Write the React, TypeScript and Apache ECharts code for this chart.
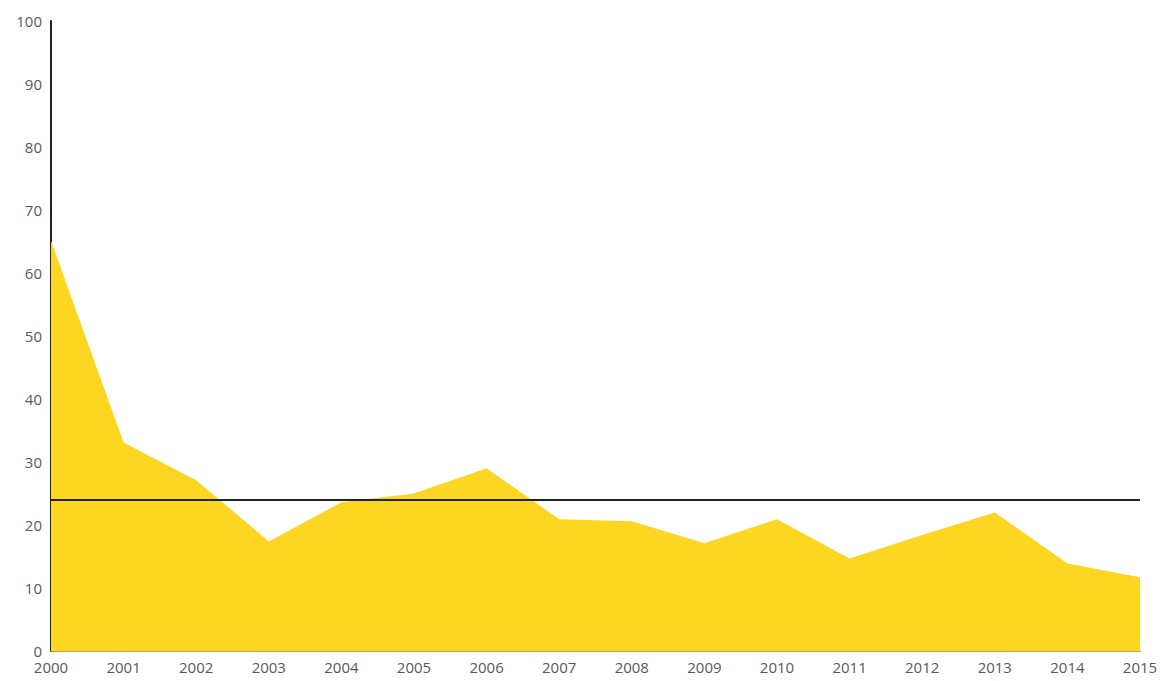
import React, { useEffect, useRef } from "react";
import * as echarts from "echarts";

const years = ["2000","2001","2002","2003","2004","2005","2006","2007","2008","2009","2010","2011","2012","2013","2014","2015"];
const values = [65.1, 33.1, 27.1, 17.4, 23.6, 25.0, 29.0, 20.9, 20.6, 17.1, 20.9, 14.7, 18.4, 22.0, 13.9, 11.7];
const referenceValue = 24;
const yTicks = { min: 0, max: 100, interval: 10 };

export default function App() {
  const ref = useRef<HTMLDivElement>(null);
  useEffect(() => {
    if (!ref.current) return;
    const chart = echarts.init(ref.current, undefined, { renderer: "svg" });
    chart.setOption({
      animation: false,
      backgroundColor: "#ffffff",
      grid: { left: 51, right: 29, top: 21, bottom: 30, containLabel: false },
      xAxis: {
        type: "category",
        data: years,
        boundaryGap: false,
        axisLine: { show: true, lineStyle: { color: "#9a8420", width: 1.5 } },
        axisTick: { show: false },
        axisLabel: { color: "#595959", fontSize: 15, fontFamily: "Open Sans", margin: 8 },
        splitLine: { show: false },
      },
      yAxis: {
        type: "value",
        min: yTicks.min,
        max: yTicks.max,
        interval: yTicks.interval,
        axisLine: { show: true, lineStyle: { color: "#222", width: 2 } },
        axisTick: { show: false },
        axisLabel: { color: "#595959", fontSize: 15, fontFamily: "Open Sans", margin: 9 },
        splitLine: { show: false },
      },
      series: [
        {
          type: "line",
          data: values,
          symbol: "none",
          lineStyle: { width: 0 },
          areaStyle: { color: "#FDD622", opacity: 1 },
          z: 1,
          markLine: {
            silent: true,
            symbol: ["none", "none"],
            label: { show: false },
            lineStyle: { color: "#222", width: 2, type: "solid" },
            data: [{ yAxis: referenceValue }],
          },
        },
      ],
    });
    return () => chart.dispose();
  }, []);
  return <div ref={ref} style={{ width: 1169, height: 681, position: "absolute", left: 0, top: 0 }} />;
}
